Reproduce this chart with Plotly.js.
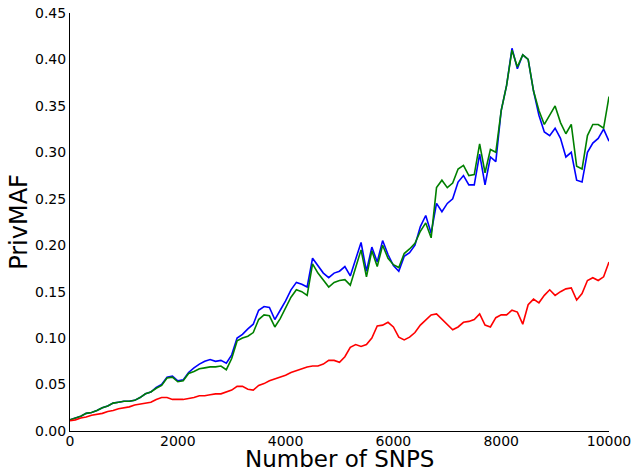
<!DOCTYPE html>
<html>
<head>
<meta charset="utf-8">
<script src="https://cdn.plot.ly/plotly-3.0.1.min.js"></script>
<style>html,body{margin:0;padding:0;background:#fff;}#chart{width:634px;height:474px;}</style>
</head>
<body>
<div id="chart"></div>
<script>
// Number of SNPs sampled every 100
const snps = [];
for (let i = 0; i <= 100; i++) snps.push(i * 100);

const blueSeries = [
0.012,0.014,0.016,0.019,0.020,0.022,0.025,0.027,0.030,0.031,
0.032,0.032,0.033,0.036,0.040,0.042,0.047,0.050,0.058,0.059,
0.054,0.055,0.063,0.068,0.072,0.075,0.077,0.075,0.076,0.073,
0.082,0.100,0.104,0.110,0.115,0.130,0.134,0.133,0.120,0.130,
0.140,0.152,0.160,0.158,0.155,0.186,0.178,0.170,0.165,0.170,
0.172,0.177,0.167,0.185,0.203,0.172,0.198,0.182,0.205,0.190,
0.178,0.172,0.188,0.192,0.200,0.220,0.232,0.213,0.245,0.236,
0.245,0.250,0.268,0.275,0.265,0.265,0.298,0.265,0.295,0.290,
0.345,0.372,0.412,0.390,0.405,0.400,0.366,0.340,0.322,0.318,
0.326,0.315,0.295,0.300,0.270,0.268,0.300,0.310,0.315,0.325,
0.312];

const greenSeries = [
0.012,0.014,0.016,0.019,0.020,0.022,0.025,0.027,0.030,0.031,
0.032,0.032,0.033,0.036,0.040,0.042,0.046,0.049,0.057,0.058,
0.053,0.054,0.062,0.064,0.067,0.068,0.069,0.069,0.070,0.066,
0.078,0.097,0.100,0.102,0.106,0.120,0.125,0.124,0.112,0.121,
0.132,0.144,0.152,0.150,0.146,0.180,0.170,0.163,0.155,0.160,
0.162,0.163,0.157,0.176,0.195,0.166,0.194,0.177,0.200,0.186,
0.179,0.176,0.191,0.196,0.202,0.215,0.224,0.208,0.262,0.270,
0.262,0.267,0.282,0.286,0.275,0.276,0.309,0.278,0.303,0.300,
0.345,0.372,0.410,0.392,0.405,0.400,0.366,0.345,0.330,0.340,
0.350,0.332,0.320,0.330,0.285,0.282,0.318,0.330,0.330,0.326,
0.360];

const redSeries = [
0.011,0.012,0.014,0.015,0.017,0.018,0.019,0.021,0.022,0.024,
0.025,0.026,0.028,0.029,0.030,0.031,0.034,0.036,0.036,0.034,
0.034,0.034,0.035,0.036,0.038,0.038,0.039,0.040,0.040,0.042,
0.044,0.048,0.048,0.045,0.044,0.049,0.051,0.054,0.056,0.058,
0.060,0.063,0.065,0.067,0.069,0.070,0.070,0.072,0.076,0.076,
0.074,0.080,0.090,0.093,0.091,0.093,0.100,0.113,0.114,0.117,
0.112,0.101,0.098,0.101,0.106,0.114,0.120,0.125,0.126,0.120,
0.114,0.109,0.112,0.117,0.118,0.120,0.126,0.114,0.112,0.122,
0.125,0.125,0.130,0.128,0.115,0.136,0.142,0.138,0.146,0.152,
0.146,0.150,0.153,0.154,0.141,0.148,0.162,0.165,0.162,0.166,
0.182];

const xTicks = [0, 2000, 4000, 6000, 8000, 10000];
const xTickText = ["0", "2000", "4000", "6000", "8000", "10000"];
const yTicks = [0, 0.05, 0.10, 0.15, 0.20, 0.25, 0.30, 0.35, 0.40, 0.45];
const yTickText = ["0.00","0.05","0.10","0.15","0.20","0.25","0.30","0.35","0.40","0.45"];
const xTitle = "Number of SNPS";
const yTitle = "PrivMAF";

const font = "DejaVu Sans, sans-serif";
const traces = [
  {x: snps, y: blueSeries, type: "scatter", mode: "lines", line: {color: "#0000ff", width: 1.6}, showlegend: false},
  {x: snps, y: greenSeries, type: "scatter", mode: "lines", line: {color: "#008000", width: 1.6}, showlegend: false},
  {x: snps, y: redSeries, type: "scatter", mode: "lines", line: {color: "#ff0000", width: 1.6}, showlegend: false}
];

const layout = {
  width: 634, height: 474,
  margin: {l: 70, r: 25, t: 13, b: 43},
  paper_bgcolor: "#ffffff", plot_bgcolor: "#ffffff",
  font: {family: font, color: "#000000", size: 14},
  xaxis: {
    range: [0, 10000], tickvals: xTicks, ticktext: xTickText,
    showgrid: false, zeroline: false, showline: true, linecolor: "#000000", linewidth: 1,
    ticks: "", ticklen: 0, ticklabelstandoff: -3, tickfont: {family: font, size: 14, color: "#000000"},
    automargin: false, fixedrange: true
  },
  yaxis: {
    range: [0, 0.45], tickvals: yTicks, ticktext: yTickText,
    showgrid: false, zeroline: false, showline: true, linecolor: "#000000", linewidth: 1,
    ticks: "", tickfont: {family: font, size: 14, color: "#000000"},
    title: {text: yTitle, font: {family: font, size: 24, color: "#000000"}, standoff: 0},
    automargin: false, fixedrange: true
  },
  annotations: [{
    text: xTitle, xref: "paper", yref: "paper", x: 0.5, y: -0.1025,
    xanchor: "center", yanchor: "bottom", showarrow: false,
    font: {family: font, size: 23, color: "#000000"}
  }]
};

Plotly.newPlot("chart", traces, layout, {displayModeBar: false, staticPlot: true});
</script>
</body>
</html>
